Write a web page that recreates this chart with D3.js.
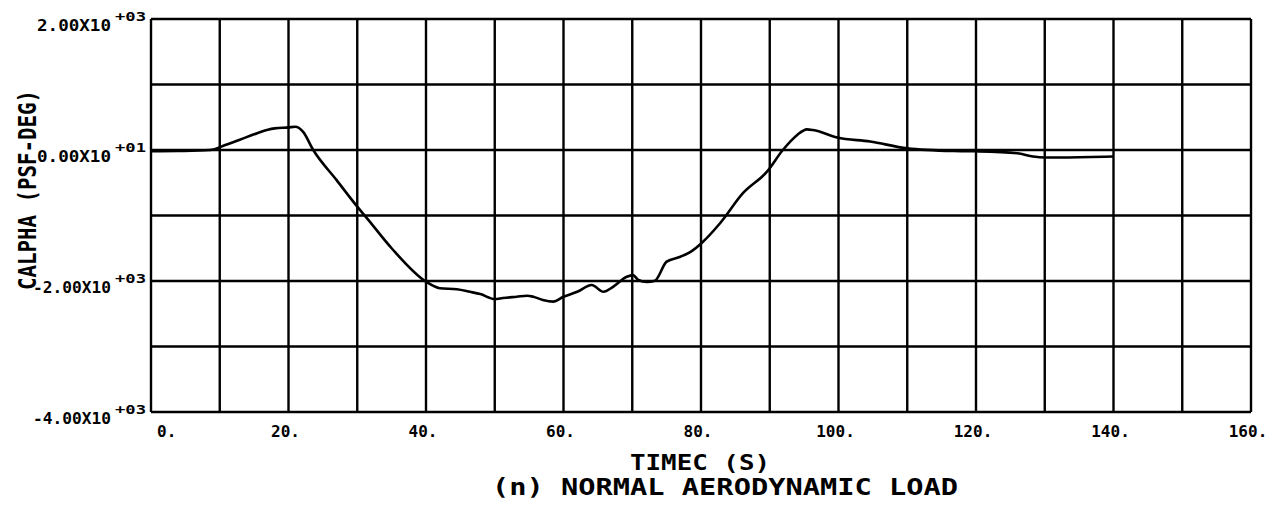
<!DOCTYPE html>
<html>
<head>
<meta charset="utf-8">
<script src="https://cdn.jsdelivr.net/npm/d3@7"></script>
<style>
  body { margin: 0; background: #fff; }
  text { font-family: "DejaVu Sans Mono", monospace; font-weight: bold; fill: #000; }
</style>
</head>
<body>
<div id="chart"></div>
<script>
// time (s) and CALPHA (psf-deg)
const timeSec = [0, 4, 8.6, 10.8, 13, 15, 17, 18, 20, 21, 22.1, 23.6, 27, 30, 31.4,
  35, 40, 42, 44.5, 46.4, 47.9, 50, 51.2, 53.2, 54.7, 55.6, 57, 58.5, 60, 62, 64.1,
  65.8, 67.2, 69.2, 70.1, 70.9, 72.1, 73.3, 75, 77, 78.7, 80.1, 82.8, 86.1, 89.6,
  91.9, 94, 95.4, 96.3, 99.8, 104.6, 110, 116.7, 120, 126, 128.3, 130, 135, 140];
const calpha = [-20, -15, 0, 75, 160, 240, 310, 330, 345, 355, 280, 0, -460, -865, -1040,
  -1500, -2010, -2110, -2125, -2165, -2200, -2275, -2260, -2240, -2225, -2240, -2290,
  -2315, -2240, -2165, -2060, -2165, -2090, -1935, -1910, -1985, -2015, -1995, -1705,
  -1630, -1540, -1420, -1115, -660, -330, 0, 230, 315, 305, 190, 130, 25, -15, -20,
  -50, -100, -115, -110, -100];

const xTicks = [0, 20, 40, 60, 80, 100, 120, 140, 160];
const xTickLabels = ["0.", "20.", "40.", "60.", "80.", "100.", "120.", "140.", "160."];
const yTicks = [2000, 0, -2000, -4000];
const yMantissa = ["2.00X10", "0.00X10", "-2.00X10", "-4.00X10"];
const yExponent = ["+03", "+01", "+03", "+03"];

const width = 1277, height = 509;
const plotLeft = 151, plotRight = 1251, plotTop = 19, plotBottom = 412;

const x = d3.scaleLinear().domain([0, 160]).range([plotLeft, plotRight]);
const y = d3.scaleLinear().domain([-4000, 2000]).range([plotBottom, plotTop]);

const svg = d3.select('#chart').append('svg')
  .attr('width', width)
  .attr('height', height);

// grid
svg.append('g').selectAll('line')
  .data(d3.range(0, 161, 10))
  .join('line')
  .attr('x1', d => x(d)).attr('x2', d => x(d))
  .attr('y1', plotTop).attr('y2', plotBottom)
  .attr('stroke', '#000').attr('stroke-width', 2.4);

svg.append('g').selectAll('line')
  .data(d3.range(-4000, 2001, 1000))
  .join('line')
  .attr('x1', plotLeft).attr('x2', plotRight)
  .attr('y1', d => y(d)).attr('y2', d => y(d))
  .attr('stroke', '#000').attr('stroke-width', 2.4);

// data curve
const line = d3.line()
  .x((d, i) => x(timeSec[i]))
  .y(d => y(d))
  .curve(d3.curveMonotoneX);

svg.append('path')
  .datum(calpha)
  .attr('d', line)
  .attr('fill', 'none')
  .attr('stroke', '#000')
  .attr('stroke-width', 2.6)
  .attr('stroke-linejoin', 'round');

// x tick labels
svg.append('g').selectAll('text')
  .data(xTicks)
  .join('text')
  .attr('x', (d, i) => i === 0 ? x(d) + 6 : x(d) - 3)
  .attr('y', 437)
  .attr('text-anchor', (d, i) => i === 0 ? 'start' : 'middle')
  .style('font-size', '16px')
  .text((d, i) => xTickLabels[i]);

// y tick labels, mantissa + superscript exponent
const yl = svg.append('g');
yl.selectAll('text.m')
  .data(yTicks)
  .join('text')
  .attr('class', 'm')
  .attr('x', 111)
  .attr('y', d => y(d) + 12)
  .attr('text-anchor', 'end')
  .attr('textLength', (d, i) => yMantissa[i].startsWith('-') ? 78 : 74)
  .attr('lengthAdjust', 'spacingAndGlyphs')
  .style('font-size', '15px')
  .text((d, i) => yMantissa[i]);

yl.selectAll('text.e')
  .data(yTicks)
  .join('text')
  .attr('class', 'e')
  .attr('x', 115)
  .attr('y', d => y(d) + 2)
  .attr('textLength', 31)
  .attr('lengthAdjust', 'spacingAndGlyphs')
  .style('font-size', '13px')
  .text((d, i) => yExponent[i]);

// axis titles
svg.append('text')
  .attr('transform', 'translate(36,190) rotate(-90)')
  .attr('text-anchor', 'middle')
  .attr('textLength', 200)
  .attr('lengthAdjust', 'spacingAndGlyphs')
  .style('font-size', '25px')
  .text('CALPHA (PSF-DEG)');

svg.append('text')
  .attr('x', 700)
  .attr('y', 470)
  .attr('text-anchor', 'middle')
  .attr('textLength', 140)
  .attr('lengthAdjust', 'spacingAndGlyphs')
  .style('font-size', '21px')
  .text('TIMEC (S)');

svg.append('text')
  .attr('x', 725)
  .attr('y', 495)
  .attr('text-anchor', 'middle')
  .attr('textLength', 466)
  .attr('lengthAdjust', 'spacingAndGlyphs')
  .style('font-size', '23px')
  .text('(n) NORMAL AERODYNAMIC LOAD');
</script>
</body>
</html>
